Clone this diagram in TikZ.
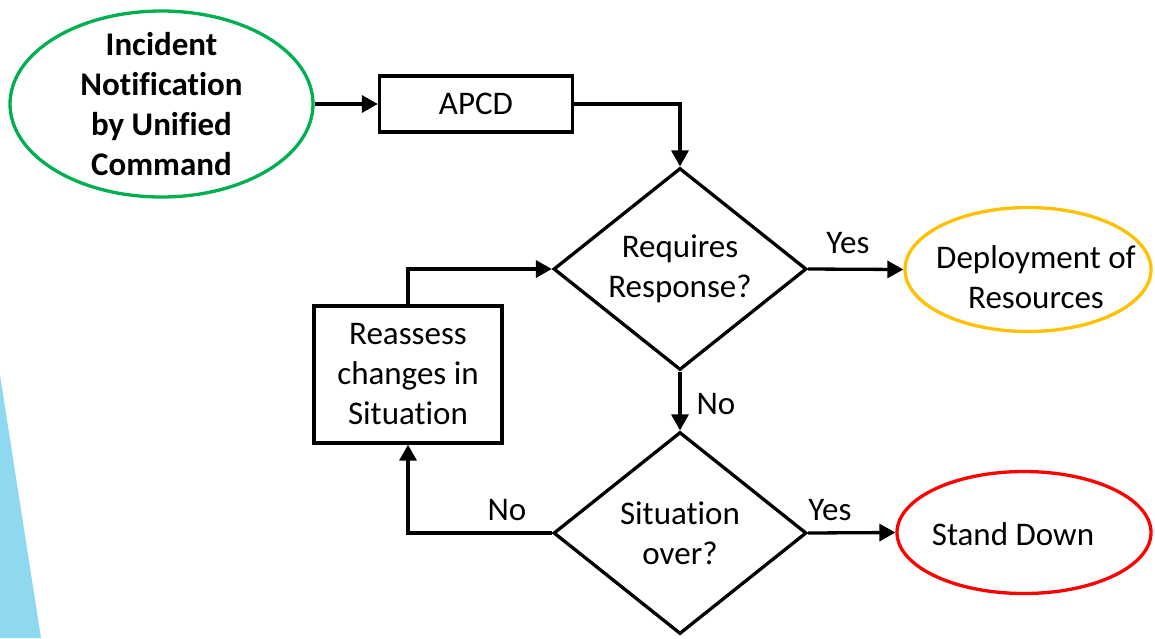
\documentclass[tikz,border=0pt]{standalone}
\usepackage{fontspec}
\setmainfont{Carlito}[Ligatures={NoCommon,NoRequired,NoContextual}]
\usetikzlibrary{shapes.geometric,arrows.meta}
\definecolor{skyb}{RGB}{143,217,240}
\definecolor{ogreen}{RGB}{0,176,80}
\definecolor{oyellow}{RGB}{255,192,0}
\definecolor{ored}{RGB}{255,0,0}
\tikzset{
  every node/.style={font=\fontsize{33}{40}\selectfont, align=center, inner sep=0pt},
  proc/.style={draw=black, line width=3.3pt, rectangle},
  dec/.style={draw=black, line width=3.3pt, diamond, aspect=1.25, minimum width=253pt, minimum height=202pt},
  term/.style={ellipse, line width=3.3pt},
  conn/.style={line width=3.3pt, -{Triangle[length=16pt,width=17pt]}},
  txt/.style={}
}
\begin{document}
\begin{tikzpicture}[x=1pt,y=-1pt]
\useasboundingbox (0,0) rectangle (1155,638);
\fill[skyb] (0,375) -- (41,638) -- (0,638) -- cycle;
\node[term, draw=ogreen, minimum width=303pt, minimum height=186pt] (inc) at (161.5,104) {};
\node[txt, font=\fontsize{33}{40}\selectfont\bfseries] (inct) at (inc.center) {Incident\\Notification\\by Unified\\Command};
\node[proc, minimum width=193pt, minimum height=56pt] (apcd) at (476,104) {APCD};
\node[dec] (req) at (680,269) {Requires\\Response?};
\node[term, draw=oyellow, minimum width=246pt, minimum height=124pt] (dep) at (1028,269.5) {};
\node[txt] (dept) at (1036,277) {Deployment of\\Resources};
\node[dec] (sit) at (680,533) {Situation\\over?};
\node[term, draw=ored, minimum width=254pt, minimum height=122pt] (sd) at (1024,532.5) {};
\node[txt] (sdt) at (1013,534) {Stand Down};
\node[proc, minimum width=188pt, minimum height=137pt] (rea) at (408,374.5) {Reassess\\changes in\\Situation};
\draw[conn] (inc.east) -- (apcd.west);
\draw[conn] (apcd.east) -| (req.north);
\draw[conn] (req.east) -- (dep.west);
\draw[conn] (req.south) -- (sit.north);
\draw[conn] (sit.east) -- (sd.west);
\draw[conn] (sit.west) -| (rea.south);
\draw[conn] (rea.north) |- (req.west);
\node[txt] (y1) at (848,243) {Yes};
\node[txt] (n1) at (716,404) {No};
\node[txt] (y2) at (830,510) {Yes};
\node[txt] (n2) at (507,510) {No};
\end{tikzpicture}
\end{document}
